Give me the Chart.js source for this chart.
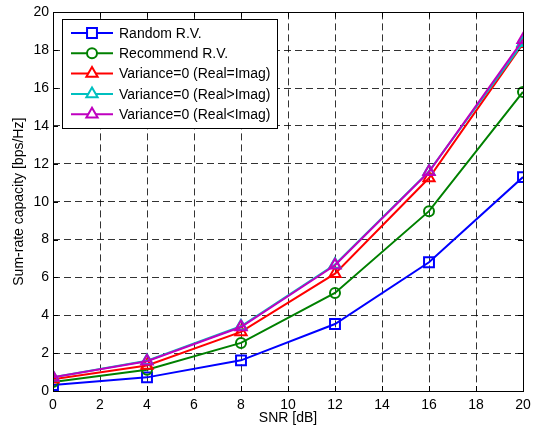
<!DOCTYPE html>
<html>
<head>
<meta charset="utf-8">
<script src="https://cdn.jsdelivr.net/npm/chart.js@4/dist/chart.umd.min.js"></script>
<style>
  html, body { margin: 0; padding: 0; background: #ffffff; }
  #wrap { width: 544px; height: 431px; }
</style>
</head>
<body>
<div id="wrap"><canvas id="cap"></canvas></div>
<script>
// SNR points (dB) and sum-rate capacity per scheme (bps/Hz)
const snrDb = [0, 4, 8, 12, 16, 20];
const randomRV = [0.32, 0.72, 1.62, 3.54, 6.8, 11.3];
const recommendRV = [0.47, 1.12, 2.54, 5.18, 9.5, 15.8];
const varEqual = [0.62, 1.35, 3.12, 6.2, 11.25, 18.35];
const varRealGt = [0.72, 1.6, 3.42, 6.68, 11.6, 18.4];
const varRealLt = [0.72, 1.57, 3.38, 6.64, 11.58, 18.55];

const xTicks = [0, 2, 4, 6, 8, 10, 12, 14, 16, 18, 20];
const yTicks = [0, 2, 4, 6, 8, 10, 12, 14, 16, 18, 20];

const FONT = "'Liberation Sans', Arial, Helvetica, sans-serif";

function series(label, values, color, style, radius, order) {
  return {
    label,
    data: values.map((v, i) => ({ x: snrDb[i], y: v })),
    borderColor: color,
    backgroundColor: color,
    borderWidth: 2,
    pointStyle: style,
    pointRadius: radius,
    pointBorderWidth: 2,
    pointBorderColor: color,
    pointBackgroundColor: 'rgba(0,0,0,0)',
    showLine: true,
    tension: 0,
    order
  };
}

const datasets = [
  series('Random R.V.', randomRV, '#0000ff', 'rect', 7, 4),
  series('Recommend R.V.', recommendRV, '#008000', 'circle', 5, 3),
  series('Variance=0 (Real=Imag)', varEqual, '#ff0000', 'triangle', 6.5, 2),
  series('Variance=0 (Real>Imag)', varRealGt, '#00bfbf', 'triangle', 6.5, 1),
  series('Variance=0 (Real<Imag)', varRealLt, '#bf00bf', 'triangle', 6.5, 0)
];

// box around the plot with small inward ticks on every side
const frame = {
  id: 'frame',
  afterDatasetsDraw(chart) {
    const { ctx, chartArea: a, scales } = chart;
    ctx.save();
    ctx.strokeStyle = '#000';
    ctx.lineWidth = 1;
    ctx.beginPath();
    const tl = 5;
    scales.x.ticks.forEach(t => {
      const px = Math.round(scales.x.getPixelForValue(t.value)) + 0.5;
      ctx.moveTo(px, a.bottom); ctx.lineTo(px, a.bottom - tl);
      ctx.moveTo(px, a.top); ctx.lineTo(px, a.top + tl);
    });
    scales.y.ticks.forEach(t => {
      const py = Math.round(scales.y.getPixelForValue(t.value)) + 0.5;
      ctx.moveTo(a.left, py); ctx.lineTo(a.left + tl, py);
      ctx.moveTo(a.right, py); ctx.lineTo(a.right - tl, py);
    });
    ctx.stroke();
    ctx.strokeRect(Math.round(a.left) + 0.5, Math.round(a.top) + 0.5,
      Math.round(a.right - a.left), Math.round(a.bottom - a.top));
    ctx.restore();
  }
};

// legend box in the upper left corner of the plot
const boxLegend = {
  id: 'boxLegend',
  afterDraw(chart) {
    const { ctx } = chart;
    const bx = 62, by = 19, bw = 215, bh = 109;
    ctx.save();
    ctx.fillStyle = '#fff';
    ctx.fillRect(bx, by, bw, bh);
    ctx.strokeStyle = '#000';
    ctx.lineWidth = 1;
    ctx.strokeRect(bx + 0.5, by + 0.5, bw, bh);
    ctx.font = '14px ' + FONT;
    ctx.textBaseline = 'middle';
    ctx.textAlign = 'left';
    chart.data.datasets.forEach((ds, i) => {
      const y = 33 + i * 20.3;
      ctx.strokeStyle = ds.borderColor;
      ctx.lineWidth = 2;
      ctx.beginPath();
      ctx.moveTo(71, y); ctx.lineTo(113, y);
      ctx.stroke();
      ctx.fillStyle = '#fff';
      Chart.helpers.drawPoint(ctx, {
        pointStyle: ds.pointStyle, radius: ds.pointRadius,
        borderWidth: ds.pointBorderWidth, rotation: 0
      }, 92, y);
      ctx.fillStyle = '#000';
      ctx.fillText(ds.label, 119, y + 1);
    });
    ctx.restore();
  }
};

const gridOpts = {
  color: 'rgba(0,0,0,0.8)',
  lineWidth: 1,
  drawTicks: false
};

new Chart(document.getElementById('cap'), {
  type: 'scatter',
  data: { datasets },
  options: {
    responsive: true,
    maintainAspectRatio: false,
    animation: false,
    layout: { padding: { left: 0, right: 21, top: 12, bottom: 0 } },
    plugins: { legend: { display: false }, tooltip: { enabled: false } },
    scales: {
      x: {
        type: 'linear',
        min: 0, max: 20,
        afterBuildTicks: s => { s.ticks = xTicks.map(v => ({ value: v })); },
        afterFit: s => { s.height = 40; },
        grid: gridOpts,
        border: { display: false, dash: [7, 4] },
        ticks: { color: '#000', padding: 6, maxRotation: 0, font: { family: FONT, size: 14 } },
        title: { display: true, text: 'SNR [dB]', color: '#000', padding: { top: 5 }, font: { family: FONT, size: 14 } }
      },
      y: {
        type: 'linear',
        min: 0, max: 20,
        afterBuildTicks: s => { s.ticks = yTicks.map(v => ({ value: v })); },
        afterFit: s => { s.width = 53; },
        grid: gridOpts,
        border: { display: false, dash: [7, 4] },
        ticks: { color: '#000', padding: 4, font: { family: FONT, size: 14 } },
        title: { display: true, text: 'Sum-rate capacity [bps/Hz]', color: '#000', padding: { top: 11 }, font: { family: FONT, size: 14 } }
      }
    }
  },
  plugins: [frame, boxLegend]
});
</script>
</body>
</html>
